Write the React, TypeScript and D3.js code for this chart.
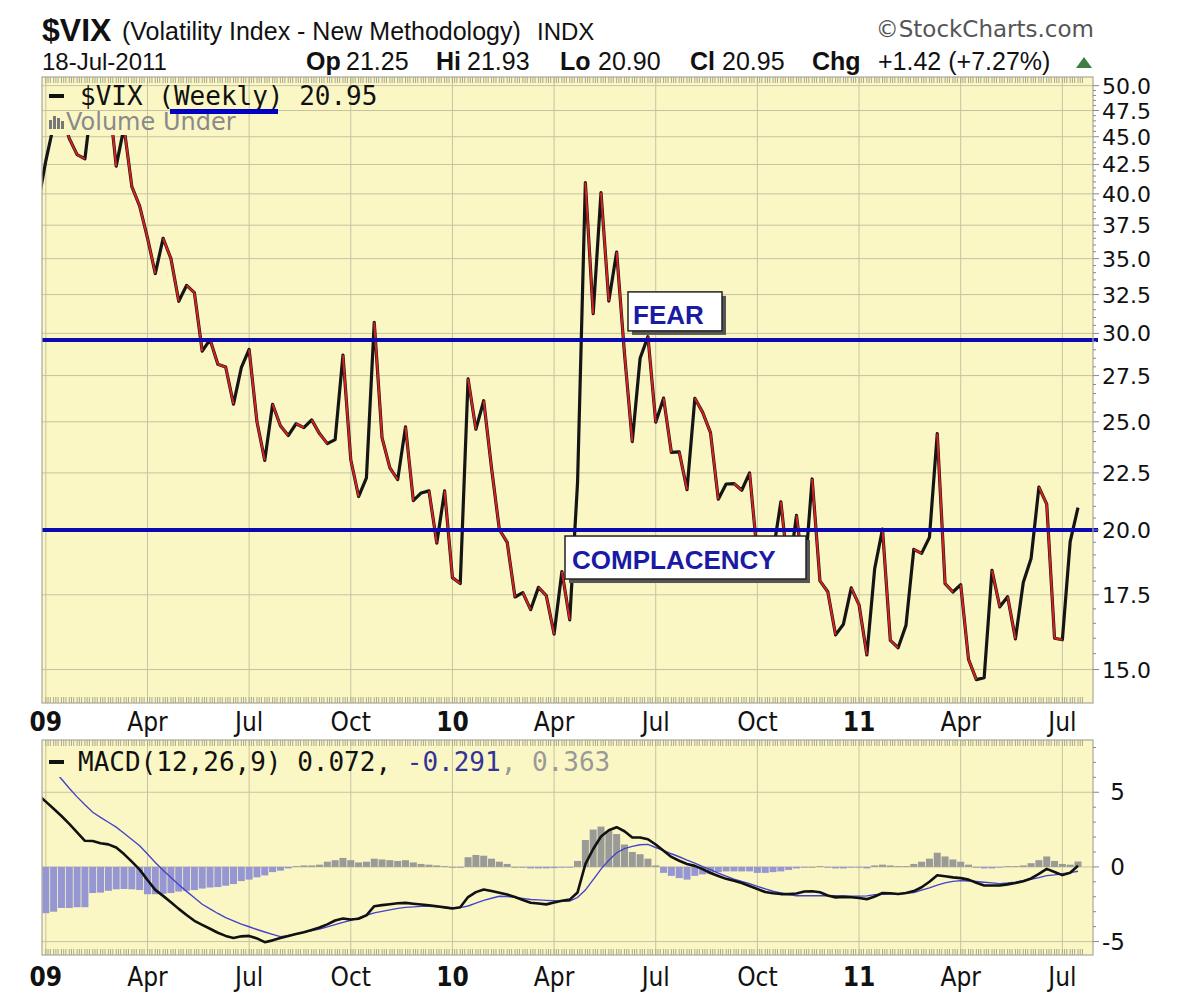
import React from "react";
import * as d3 from "d3";

// ---------- data ----------
const WEEK_START = new Date(2008, 11, 29);
const WEEK_END = new Date(2011, 6, 18);
const DATES: Date[] = d3.timeMonday.range(WEEK_START, d3.timeDay.offset(WEEK_END, 1));

const VIX = [
  39.19, 42.82, 46.11, 47.27, 44.84, 43.37, 43.0, 49.19, 46.35, 49.33,
  42.36, 45.89, 40.6, 39.0, 36.53, 33.94, 36.5, 35.0, 32.05, 33.12,
  32.63, 28.92, 29.62, 28.15, 27.99, 25.93, 27.95, 29.02, 25.0, 23.09,
  25.92, 24.8, 24.3, 24.9, 24.7, 25.1, 24.4, 23.9, 24.1, 28.68,
  23.12, 21.43, 22.27, 30.69, 24.19, 22.73, 22.19, 24.74, 21.25, 21.59,
  21.68, 19.47, 21.68, 18.13, 17.91, 27.31, 24.62, 26.11, 22.73, 20.02,
  19.5, 17.42, 17.58, 16.97, 17.77, 17.47, 16.14, 18.36, 16.62, 22.05,
  40.95, 31.24, 40.1, 32.07, 35.48, 28.79, 24.0, 28.5, 29.8, 24.98,
  26.25, 23.47, 23.5, 21.74, 26.24, 25.49, 24.45, 21.31, 21.99, 22.01,
  21.71, 22.5, 18.96, 19.03, 19.08, 21.2, 18.26, 20.61, 18.04, 22.22,
  18.01, 17.61, 16.11, 16.47, 17.75, 17.14, 15.46, 18.47, 20.04, 15.93,
  15.69, 16.43, 19.22, 19.06, 19.7, 24.4, 17.91, 17.6, 17.87, 15.32,
  14.69, 14.75, 18.4, 17.07, 17.43, 15.98, 17.95, 18.86, 21.85, 21.1,
  16.0, 15.95, 19.53, 20.95,
];

const MACD = [
  4.85, 4.37, 3.89, 3.41, 2.88, 2.32, 1.75, 1.74, 1.59, 1.51,
  1.3, 0.86, 0.35, -0.18, -0.88, -1.54, -1.94, -2.36, -2.81, -3.22,
  -3.61, -3.88, -4.14, -4.41, -4.62, -4.76, -4.65, -4.62, -4.79, -5.04,
  -4.92, -4.76, -4.63, -4.5, -4.38, -4.22, -4.06, -3.85, -3.59, -3.46,
  -3.52, -3.47, -3.24, -2.63, -2.56, -2.5, -2.43, -2.41, -2.47, -2.52,
  -2.57, -2.63, -2.71, -2.79, -2.7, -2.02, -1.69, -1.51, -1.62, -1.73,
  -1.85, -2.01, -2.22, -2.4, -2.45, -2.51, -2.38, -2.27, -2.19, -1.71,
  0.19, 1.2, 2.04, 2.45, 2.66, 2.39, 1.97, 1.97, 1.85, 1.5,
  1.08, 0.67, 0.41, 0.2, 0.07, -0.15, -0.41, -0.61, -0.8, -0.93,
  -1.08, -1.28, -1.48, -1.68, -1.76, -1.82, -1.82, -1.78, -1.65, -1.63,
  -1.7, -1.91, -2.04, -2.01, -2.03, -2.08, -2.16, -1.98, -1.75, -1.76,
  -1.81, -1.75, -1.62, -1.36, -0.99, -0.56, -0.63, -0.7, -0.75, -0.85,
  -1.06, -1.25, -1.25, -1.25, -1.17, -1.08, -0.96, -0.77, -0.46, -0.13,
  -0.34, -0.55, -0.39, 0.072,
];

const SIGNAL = [
  7.75, 7.13, 6.52, 5.89, 5.27, 4.69, 4.16, 3.66, 3.32, 2.99,
  2.66, 2.25, 1.84, 1.42, 0.87, 0.3, -0.23, -0.71, -1.19, -1.64,
  -2.07, -2.5, -2.81, -3.12, -3.39, -3.61, -3.83, -4.01, -4.19, -4.36,
  -4.52, -4.67, -4.6, -4.49, -4.38, -4.27, -4.16, -4.02, -3.87, -3.72,
  -3.57, -3.41, -3.24, -3.08, -2.98, -2.88, -2.78, -2.71, -2.68, -2.64,
  -2.63, -2.67, -2.7, -2.73, -2.73, -2.62, -2.42, -2.24, -2.1, -1.97,
  -1.98, -2.04, -2.11, -2.18, -2.21, -2.24, -2.27, -2.3, -2.28, -2.05,
  -1.55, -0.85, -0.15, 0.45, 0.95, 1.22, 1.38, 1.48, 1.51, 1.3,
  1.1, 0.88, 0.68, 0.45, 0.25, 0.02, -0.18, -0.42, -0.62, -0.82,
  -0.98, -1.12, -1.3, -1.47, -1.63, -1.75, -1.86, -1.93, -1.93, -1.93,
  -1.93, -1.93, -1.93, -1.95, -1.96, -1.96, -1.94, -1.86, -1.83, -1.82,
  -1.8, -1.77, -1.71, -1.55, -1.4, -1.22, -1.07, -0.97, -0.92, -0.94,
  -0.98, -1.03, -1.07, -1.12, -1.08, -1.02, -0.92, -0.83, -0.72, -0.58,
  -0.53, -0.46, -0.38, -0.291,
];

const HIST = [
  -3.1, -3.1, -3.0, -2.75, -2.75, -2.7, -2.7, -1.75, -1.72, -1.6,
  -1.5, -1.48, -1.5, -1.55, -1.83, -1.83, -1.8, -1.75, -1.65, -1.6,
  -1.55, -1.45, -1.38, -1.35, -1.26, -1.15, -0.95, -0.85, -0.7, -0.57,
  -0.35, -0.25, -0.1, 0.05, 0.1, 0.1, 0.15, 0.35, 0.45, 0.6,
  0.45, 0.3, 0.35, 0.55, 0.5, 0.45, 0.4, 0.45, 0.3, 0.2,
  0.15, 0.1, 0.05, 0.0, -0.05, 0.65, 0.8, 0.75, 0.55, 0.35,
  0.2, 0.0, -0.05, -0.1, -0.1, -0.1, -0.08, -0.05, -0.05, 0.4,
  1.8, 2.5, 2.7, 2.4, 2.2, 1.5, 1.0, 0.85, 0.55, 0.1,
  -0.4, -0.6, -0.75, -0.85, -0.6, -0.5, -0.45, -0.35, -0.3, -0.3,
  -0.3, -0.3, -0.4, -0.4, -0.35, -0.3, -0.2, -0.1, -0.05, 0.0,
  0.05, -0.05, -0.1, -0.1, -0.05, -0.05, -0.1, 0.1, 0.15, 0.1,
  0.05, 0.05, 0.2, 0.35, 0.55, 0.95, 0.7, 0.5, 0.35, 0.15,
  0.0, -0.1, -0.1, -0.05, 0.05, 0.05, 0.1, 0.25, 0.45, 0.7,
  0.4, 0.2, 0.15, 0.363,
];

const PRICE_TICKS = [15, 17.5, 20, 22.5, 25, 27.5, 30, 32.5, 35, 37.5, 40, 42.5, 45, 47.5, 50];
const MACD_TICKS = [-5, 0, 5];
const FEAR_LEVEL = 29.6;
const COMPLACENCY_LEVEL = 20.0;
const MONTH_NAMES = ["Jan", "Feb", "Mar", "Apr", "May", "Jun", "Jul", "Aug", "Sep", "Oct", "Nov", "Dec"];
const HEADER_STATS = [
  { label: "Op", value: "21.25", lx: 306, vx: 346 },
  { label: "Hi", value: "21.93", lx: 436, vx: 467 },
  { label: "Lo", value: "20.90", lx: 560, vx: 598 },
  { label: "Cl", value: "20.95", lx: 690, vx: 722 },
  { label: "Chg", value: "+1.42 (+7.27%)", lx: 812, vx: 878 },
];

// ---------- layout ----------
const W = 1200, H = 999;
const L = 42, R = 1093;
const P1T = 77, P1B = 703;
const P2T = 740, P2B = 955;
const PLOT_BG = "#faf7c5";
const GRID = "#c6c3a2";
const BORDER = "#aaa89a";
const SANS = "'Liberation Sans', Arial, sans-serif";
const MONO = "'DejaVu Sans Mono', 'Liberation Mono', monospace";
const DEJAVU = "'DejaVu Sans', Verdana, sans-serif";
const NARROW = "'Liberation Sans Narrow', 'DejaVu Sans Condensed', 'Liberation Sans', sans-serif";

export default function App() {
  const x = d3.scaleTime().domain([WEEK_START, WEEK_END]).range([38, 1078]);
  const y = d3.scaleLog().domain([14.0, 50.9]).range([P1B, P1T]);
  const ym = d3.scaleLinear().domain([-5.9, 8.5]).range([P2B, P2T]);

  const qTicks = DATES.filter((d, i) => i > 0 && d.getMonth() !== DATES[i - 1].getMonth() && d.getMonth() % 3 === 0);
  const minorX: number[] = [];
  DATES.forEach((d) => [0, 2, 4].forEach((k) => {
    const xx = x(d3.timeDay.offset(d, k));
    if (xx > L + 1 && xx < R - 1) minorX.push(xx);
  }));

  const pts: [number, number][] = DATES.map((d, i) => [x(d), y(VIX[i])]);
  const pricePath = d3.line()(pts) || "";
  const macdPath = d3.line<number>().x((_, i) => x(DATES[i])).y((v) => ym(v))(MACD) || "";
  const sigPath = d3.line<number>().x((_, i) => x(DATES[i])).y((v) => ym(v))(SIGNAL) || "";

  const priceMinor: number[] = [];
  for (let v = 15; v <= 50.01; v += 0.5) if (!PRICE_TICKS.some((t) => Math.abs(t - v) < 1e-6)) priceMinor.push(v);
  const macdMinor = d3.range(-5, 9, 1).filter((v) => !MACD_TICKS.includes(v));

  const yFear = y(FEAR_LEVEL);
  const yComp = y(COMPLACENCY_LEVEL);

  const xLabel = (d: Date) => (d.getMonth() === 0 ? String(d.getFullYear()).slice(2) : MONTH_NAMES[d.getMonth()]);

  const edgeTicks = (yy: number, dir: number, key: string) => (
    <g key={key} stroke="#a9a78f" strokeWidth={1}>
      {minorX.map((xx, i) => (
        <line key={i} x1={xx} x2={xx} y1={yy} y2={yy + dir * 6} />
      ))}
    </g>
  );

  const xAxisLabels = (yy: number, key: string) => (
    <g key={key}>
      {qTicks.map((d, i) => (
        <text key={i} x={x(d)} y={yy} textAnchor="middle" fontFamily={NARROW}
          fontSize={26} fontWeight={d.getMonth() === 0 ? "bold" : "normal"} fill="#111">
          {xLabel(d)}
        </text>
      ))}
    </g>
  );

  return (
    <svg width={W} height={H} style={{ position: "absolute", left: 0, top: 0, background: "#fff" }}>
      <defs>
        <clipPath id="mainClip">
          <path clipRule="evenodd" d={`M${L},${P1T}H${R}V${P1B}H${L}Z M${L},${P1T}H392V135H${L}Z`} />
        </clipPath>
        <clipPath id="macdClip">
          <path clipRule="evenodd" d={`M${L},${P2T}H${R}V${P2B}H${L}Z M${L},${P2T}H620V777H${L}Z`} />
        </clipPath>
        <clipPath id="macdBox">
          <rect x={L} y={P2T} width={R - L} height={P2B - P2T} />
        </clipPath>
      </defs>
      <rect x={0} y={0} width={W} height={H} fill="#fff" />

      {/* ---------- header ---------- */}
      <text x={42} y={41} fontFamily={SANS} fontSize={32} fontWeight="bold" fill="#111">$VIX</text>
      <text x={122} y={40} fontFamily={SANS} fontSize={25} fill="#111">(Volatility Index - New Methodology)</text>
      <text x={537} y={40} fontFamily={SANS} fontSize={24} fill="#111">INDX</text>
      <text x={1094} y={37} textAnchor="end" fontFamily={DEJAVU} fontSize={23} fill="#555">©StockCharts.com</text>
      <text x={42} y={70} fontFamily={SANS} fontSize={24} fill="#111">18-Jul-2011</text>
      {HEADER_STATS.map((s) => (
        <g key={s.label}>
          <text x={s.lx} y={70} fontFamily={SANS} fontSize={25} fontWeight="bold" fill="#111">{s.label}</text>
          <text x={s.vx} y={70} fontFamily={SANS} fontSize={25} fill="#111">{s.value}</text>
        </g>
      ))}
      <path d="M1076,68 L1092,68 L1084,57 Z" fill="#3f7d45" />

      {/* ---------- main panel ---------- */}
      <rect x={L} y={P1T} width={R - L} height={P1B - P1T} fill={PLOT_BG} />
      <g stroke={GRID} strokeWidth={1}>
        {PRICE_TICKS.map((t) => (
          <line key={t} x1={L} x2={R} y1={y(t)} y2={y(t)} />
        ))}
        {qTicks.map((d, i) => (
          <line key={i} x1={x(d)} x2={x(d)} y1={P1T} y2={P1B} />
        ))}
      </g>
      {edgeTicks(P1B, -1, "e1")}
      {edgeTicks(P1T, 1, "e0")}

      <g clipPath="url(#mainClip)">
        <path d={pricePath} fill="none" stroke="#151515" strokeWidth={3.2} strokeLinejoin="round" />
        {pts.slice(1).map((p, i) =>
          VIX[i + 1] < VIX[i] ? (
            <line key={i} x1={pts[i][0]} y1={pts[i][1]} x2={p[0]} y2={p[1]}
              stroke="#d42222" strokeWidth={2} />
          ) : null
        )}
      </g>

      {/* annotation lines */}
      <line x1={L} x2={1098} y1={yFear} y2={yFear} stroke="#0a0ab0" strokeWidth={4} />
      <line x1={L} x2={1098} y1={yComp} y2={yComp} stroke="#0a0ab0" strokeWidth={4} />

      {/* FEAR box */}
      <rect x={632} y={yFear - 44} width={94} height={39} fill="#555" />
      <rect x={628} y={yFear - 48} width={94} height={39} fill="#fff" stroke="#222" strokeWidth={1.5} />
      <text x={633} y={yFear - 16} fontFamily={SANS} fontSize={26} fontWeight="bold" fill="#1a1aa4">FEAR</text>

      {/* COMPLACENCY box */}
      <rect x={569} y={yComp + 10} width={241} height={43} fill="#555" />
      <rect x={565} y={yComp + 6} width={241} height={43} fill="#fff" stroke="#222" strokeWidth={1.5} />
      <text x={572} y={yComp + 39} fontFamily={SANS} fontSize={26} fontWeight="bold" fill="#1a1aa4">COMPLACENCY</text>

      {/* legend */}
      <rect x={49} y={94} width={15} height={4} fill="#111" />
      <text x={80} y={105} fontFamily={MONO} fontSize={26} fill="#111">$VIX (Weekly) 20.95</text>
      <g fill="#777">
        <rect x={49} y={120} width={3} height={9} />
        <rect x={53} y={116} width={3} height={13} />
        <rect x={57} y={118} width={3} height={11} />
        <rect x={61} y={121} width={3} height={8} />
      </g>
      <text x={66} y={130} fontFamily={DEJAVU} fontSize={24} fill="#8a8a8a">Volume Under</text>
      <rect x={170} y={109} width={108} height={5} fill="#0000c4" />

      <rect x={L} y={P1T} width={R - L} height={P1B - P1T} fill="none" stroke={BORDER} strokeWidth={1.2} />

      {/* right axis */}
      <g stroke="#888" strokeWidth={1}>
        {PRICE_TICKS.map((t) => (
          <line key={t} x1={R} x2={R + 6} y1={y(t)} y2={y(t)} />
        ))}
        {priceMinor.map((t) => (
          <line key={t} x1={R} x2={R + 3} y1={y(t)} y2={y(t)} />
        ))}
      </g>
      {PRICE_TICKS.map((t) => (
        <text key={t} x={1102} y={y(t) + 8} fontFamily={DEJAVU} fontSize={22} fill="#111">{t.toFixed(1)}</text>
      ))}

      {/* x labels between panels */}
      {xAxisLabels(731, "xl1")}

      {/* ---------- MACD panel ---------- */}
      <rect x={L} y={P2T} width={R - L} height={P2B - P2T} fill={PLOT_BG} />
      <g stroke={GRID} strokeWidth={1}>
        {MACD_TICKS.map((t) => (
          <line key={t} x1={L} x2={R} y1={ym(t)} y2={ym(t)} />
        ))}
        {qTicks.map((d, i) => (
          <line key={i} x1={x(d)} x2={x(d)} y1={P2T} y2={P2B} />
        ))}
      </g>
      {edgeTicks(P2T, 1, "e2")}
      {edgeTicks(P2B, -1, "e3")}
      <g clipPath="url(#macdBox)">
        {HIST.map((h, i) => {
          const y0 = ym(0);
          const y1 = ym(h);
          return (
            <rect key={i} x={x(DATES[i]) - 3.5} width={7}
              y={Math.min(y0, y1)} height={Math.max(0.8, Math.abs(y1 - y0))}
              fill={h < 0 ? "#9696d2" : "#9a9a96"} />
          );
        })}
      </g>
      <g clipPath="url(#macdClip)">
        <path d={sigPath} fill="none" stroke="#4444c8" strokeWidth={1.4} />
        <path d={macdPath} fill="none" stroke="#111" strokeWidth={2.6} strokeLinejoin="round" />
      </g>
      <rect x={49} y={760} width={15} height={4} fill="#111" />
      <text x={78} y={771} fontFamily={MONO} fontSize={26} fill="#111">
        MACD(12,26,9) 0.072, <tspan fill="#33339a">-0.291</tspan><tspan fill="#999">, 0.363</tspan>
      </text>
      <rect x={L} y={P2T} width={R - L} height={P2B - P2T} fill="none" stroke={BORDER} strokeWidth={1.2} />
      <g stroke="#888" strokeWidth={1}>
        {MACD_TICKS.map((t) => (
          <line key={t} x1={R} x2={R + 6} y1={ym(t)} y2={ym(t)} />
        ))}
        {macdMinor.map((t) => (
          <line key={t} x1={R} x2={R + 3} y1={ym(t)} y2={ym(t)} />
        ))}
      </g>
      {MACD_TICKS.map((t) => (
        <text key={t} x={1125} y={ym(t) + 8} textAnchor="end" fontFamily={DEJAVU} fontSize={23} fill="#111">
          {t < 0 ? "-" + Math.abs(t) : String(t)}
        </text>
      ))}

      {xAxisLabels(986, "xl2")}
    </svg>
  );
}
